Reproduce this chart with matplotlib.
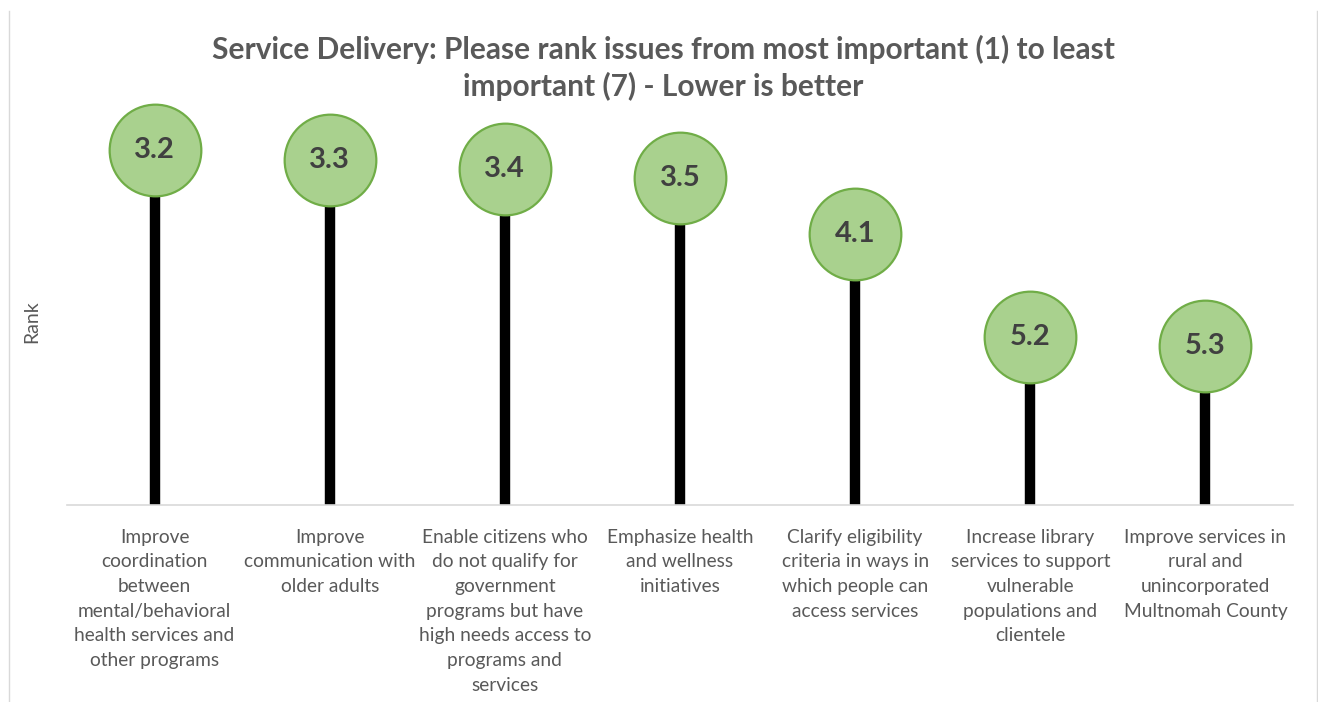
import matplotlib.pyplot as plt
import numpy as np
from matplotlib.lines import Line2D

# data
categories = [
    'Improve\ncoordination\nbetween\nmental/behavioral\nhealth services and\nother programs',
    'Improve\ncommunication with\nolder adults',
    'Enable citizens who\ndo not qualify for\ngovernment\nprograms but have\nhigh needs access to\nprograms and\nservices',
    'Emphasize health\nand wellness\ninitiatives',
    'Clarify eligibility\ncriteria in ways in\nwhich people can\naccess services',
    'Increase library\nservices to support\nvulnerable\npopulations and\nclientele',
    'Improve services in\nrural and\nunincorporated\nMultnomah County',
]
ranks = [3.2, 3.3, 3.4, 3.5, 4.1, 5.2, 5.3]
baseline = 7

plt.rcParams['font.family'] = ['Lato', 'DejaVu Sans']
grey = '#595959'

fig = plt.figure(figsize=(13.18, 7.02), dpi=100)
# thin frame lines at left and right edges
for xf in (8.5 / 1318, 1316.5 / 1318):
    fig.lines.append(Line2D([xf, xf], [0, 1 - 11 / 702], transform=fig.transFigure,
                            color='#d9d9d9', linewidth=1))

ax = fig.add_axes([67 / 1318, 197 / 702, 1226 / 1318, 410 / 702])
x = np.arange(len(ranks))

ax.vlines(x, baseline, ranks, color='black', linewidth=7.5, zorder=1)
ax.plot(x, ranks, 'o', markersize=66, markerfacecolor='#a9d18e',
        markeredgecolor='#70ad47', markeredgewidth=1.6, zorder=2)
for xi, r in zip(x, ranks):
    ax.text(xi, r, f'{r:.1f}', ha='center', va='center', fontsize=21,
            fontweight='bold', color='#404040', zorder=3)

ax.set_xlim(-0.5, len(ranks) - 0.5)
ax.set_ylim(baseline, baseline - 410 / 93.3)
ax.set_xticks(x)
ax.set_xticklabels(categories, fontsize=13.8, color=grey, linespacing=1.55)
ax.tick_params(axis='x', length=0, pad=17)
ax.set_yticks([])
for s in ['top', 'left', 'right']:
    ax.spines[s].set_visible(False)
ax.spines['bottom'].set_color('#d9d9d9')
ax.spines['bottom'].set_linewidth(1.2)

fig.text(32 / 1318, 1 - 322 / 702, 'Rank', rotation=90, ha='center',
         va='center', fontsize=14, color=grey)
fig.text(663 / 1318, 1 - 68 / 702,
         'Service Delivery: Please rank issues from most important (1) to least\nimportant (7) - Lower is better',
         ha='center', va='center', fontsize=21.5, fontweight='bold',
         color=grey, linespacing=1.3)

plt.savefig('out.png', dpi=100)
